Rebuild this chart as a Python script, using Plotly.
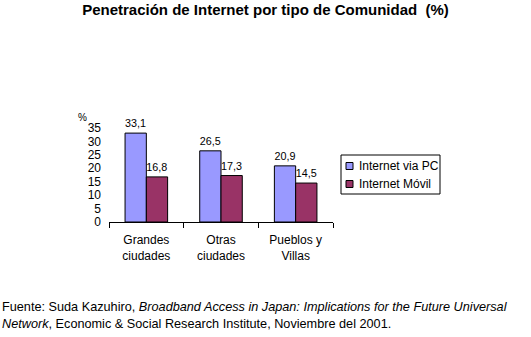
import plotly.graph_objects as go

categories = ["Grandes<br>ciudades", "Otras<br>ciudades", "Pueblos y<br>Villas"]
internet_pc = [33.1, 26.5, 20.9]
internet_movil = [16.8, 17.3, 14.5]
y_ticks = [0, 5, 10, 15, 20, 25, 30, 35]

series_names = ["Internet via PC", "Internet Móvil"]
series_colors = ["#9999FF", "#993366"]

FONT = "Liberation Sans, Arial, sans-serif"

W, H = 531, 337
L, R, T, B = 109, 198, 128, 115
PW, PH = W - L - R, H - T - B


def px(x):
    """Horizontal pixel -> paper coordinate."""
    return (x - L) / PW


def py(y):
    """Vertical pixel (from top) -> paper coordinate."""
    return (H - B - y) / PH


def fmt(v):
    return f"{v:.1f}".replace(".", ",")


fig = go.Figure()
for name, color, values in zip(series_names, series_colors, [internet_pc, internet_movil]):
    fig.add_trace(go.Bar(
        x=categories, y=values, name=name,
        marker=dict(color=color, line=dict(color="black", width=1)),
        text=[fmt(v) for v in values], textposition="outside",
        textfont=dict(size=12, color="black"), cliponaxis=False,
    ))

# Boxed legend to the right of the plot
shapes = [dict(type="rect", xref="paper", yref="paper",
               x0=px(341), x1=px(440), y0=py(155), y1=py(194),
               line=dict(color="black", width=1), fillcolor="white", layer="below")]
legend_notes = []
for i, (name, color) in enumerate(zip(series_names, series_colors)):
    cy = 166 + i * 18
    shapes.append(dict(type="rect", xref="paper", yref="paper",
                       x0=px(346), x1=px(353), y0=py(cy - 3.5), y1=py(cy + 3.5),
                       line=dict(color="black", width=1), fillcolor=color))
    legend_notes.append(dict(text=name, x=px(357), y=py(cy), xref="paper", yref="paper",
                             xanchor="left", yanchor="middle", showarrow=False,
                             font=dict(size=12)))

fig.update_layout(
    width=W, height=H,
    margin=dict(l=L, r=R, t=T, b=B, autoexpand=False),
    paper_bgcolor="white", plot_bgcolor="white",
    font=dict(family=FONT, size=12, color="black"),
    barmode="group", bargap=0.43, bargroupgap=0,
    showlegend=False,
    title=dict(
        text="<b>Penetración de Internet por tipo de Comunidad  (%)</b>",
        x=0.5, xref="container", y=1 - 10 / H, yref="container",
        xanchor="center", yanchor="middle",
        font=dict(size=15, family=FONT),
    ),
    xaxis=dict(
        showline=True, linecolor="black", linewidth=1,
        ticks="outside", tickson="boundaries", ticklen=5, tickcolor="black",
        showgrid=False, tickfont=dict(size=12), automargin=False,
        ticklabelstandoff=7,
    ),
    yaxis=dict(
        range=[0, 35], tickvals=y_ticks, showline=False, showgrid=False,
        zeroline=False, ticks="", ticklabelstandoff=7, tickfont=dict(size=12),
        automargin=False,
    ),
    shapes=shapes,
    annotations=[
        dict(text="%", x=px(82), y=py(117), xref="paper", yref="paper",
             xanchor="center", yanchor="middle",
             showarrow=False, font=dict(size=10)),
        dict(
            text="Fuente: Suda Kazuhiro, <i>Broadband Access in Japan: Implications for the Future Universal</i><br>"
                 "<i>Network</i>, Economic &amp; Social Research Institute, Noviembre del 2001.",
            x=px(0), y=py(298), xref="paper", yref="paper", showarrow=False,
            xanchor="left", yanchor="top", align="left", font=dict(size=12.7),
        ),
    ] + legend_notes,
)

fig.write_html("out.html")
